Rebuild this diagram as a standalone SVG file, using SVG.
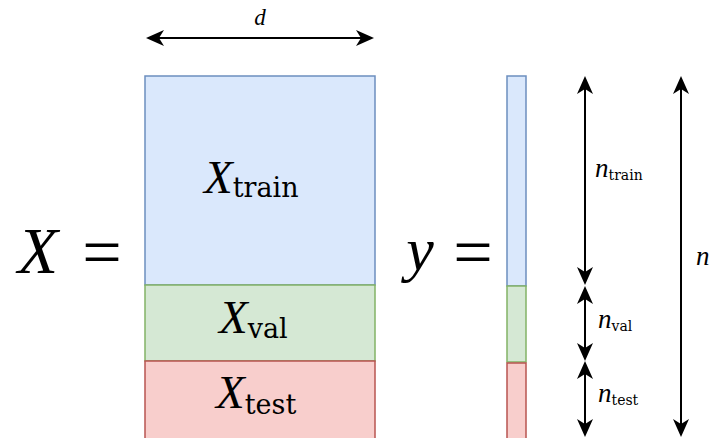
<svg xmlns="http://www.w3.org/2000/svg" width="711" height="438" viewBox="0 0 711 438">
<defs>
<style>
.mi{font-family:"Liberation Serif","DejaVu Serif",serif;font-style:italic;fill:#000}
.eq{font-family:"Liberation Serif","DejaVu Serif",serif;font-style:normal;fill:#000}
.rm{font-family:"DejaVu Serif","Liberation Serif",serif;font-style:normal;fill:#000}
.ln{stroke:#000;stroke-width:2;fill:none}
.tr{fill:#dae8fc;stroke:#6c8ebf;stroke-width:1.5}
.va{fill:#d5e8d4;stroke:#82b366;stroke-width:1.5}
.te{fill:#f8cecc;stroke:#b85450;stroke-width:1.5}
</style>
<marker id="ah" markerUnits="userSpaceOnUse" markerWidth="18" markerHeight="18" viewBox="0 0 18 18" refX="12" refY="9" orient="auto-start-reverse">
<path d="M0,1 L18,9 L0,17 L5,9 Z" fill="#000"/>
</marker>
</defs>
<g id="lhs-X"><text class="mi" x="38" y="273" font-size="66" text-anchor="middle">X</text><text class="eq" x="102" y="276" font-size="70" text-anchor="middle">=</text></g>
<g id="lhs-y"><text class="mi" x="420" y="270" font-size="62" text-anchor="middle">y</text><text class="eq" x="473" y="276" font-size="70" text-anchor="middle">=</text></g>
<g id="X-train"><rect class="tr" x="145" y="76" width="230" height="209"/><text x="204" y="193"><tspan class="mi" font-size="47">X</tspan><tspan class="rm" font-size="27" dy="4">train</tspan></text></g>
<g id="X-val"><rect class="va" x="145" y="285" width="230" height="76"/><text x="219" y="333"><tspan class="mi" font-size="47">X</tspan><tspan class="rm" font-size="27" dy="5">val</tspan></text></g>
<g id="X-test"><rect class="te" x="145" y="361" width="230" height="79"/><text x="216" y="408"><tspan class="mi" font-size="47">X</tspan><tspan class="rm" font-size="27" dy="6">test</tspan></text></g>
<g id="y-train"><rect class="tr" x="507" y="76" width="19" height="210"/></g>
<g id="y-val"><rect class="va" x="507" y="286" width="19" height="76"/></g>
<g id="y-test"><rect class="te" x="507" y="363" width="19" height="77"/></g>
<g id="connectors">
<path class="ln" d="M152,38 H368" marker-start="url(#ah)" marker-end="url(#ah)"/>
<path class="ln" d="M585,82 V279" marker-start="url(#ah)" marker-end="url(#ah)"/>
<path class="ln" d="M585,292 V355" marker-start="url(#ah)" marker-end="url(#ah)"/>
<path class="ln" d="M585,367 V431" marker-start="url(#ah)" marker-end="url(#ah)"/>
<path class="ln" d="M681,82 V431" marker-start="url(#ah)" marker-end="url(#ah)"/>
</g>
<g id="labels">
<text class="mi" x="260" y="25" font-size="23" text-anchor="middle">d</text>
<text x="595" y="177"><tspan class="mi" font-size="27">n</tspan><tspan class="rm" font-size="14" dy="3">train</tspan></text>
<text x="598" y="328"><tspan class="mi" font-size="27">n</tspan><tspan class="rm" font-size="14" dy="3">val</tspan></text>
<text x="598" y="402"><tspan class="mi" font-size="27">n</tspan><tspan class="rm" font-size="14" dy="3">test</tspan></text>
<text class="mi" x="696" y="265" font-size="27">n</text>
</g>
</svg>
